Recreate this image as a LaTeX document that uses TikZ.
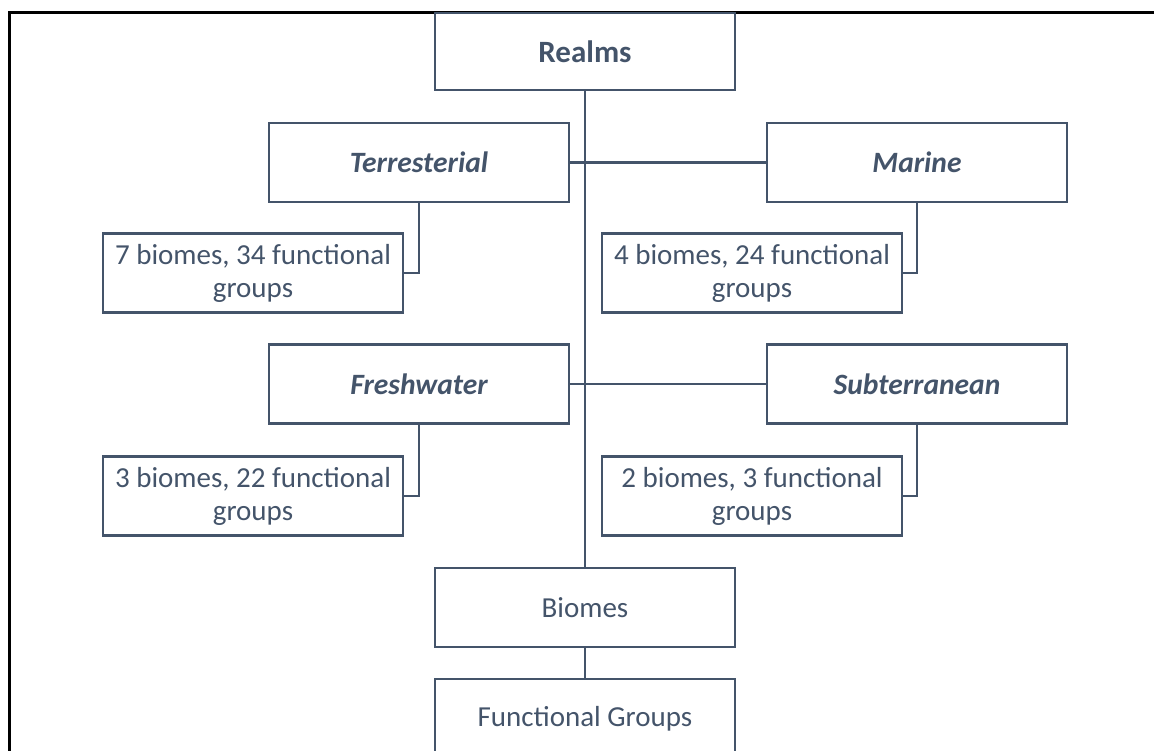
\documentclass[tikz,border=0pt]{standalone}
\usepackage{fontspec}
\setmainfont{Carlito}
\definecolor{slate}{HTML}{44546A}
\begin{document}
\begin{tikzpicture}[x=1pt,y=-1pt,
  box/.style={draw=slate, line width=2.8pt, text=slate, minimum width=300pt,
    minimum height=79pt, inner sep=0pt, align=center,
    font=\fontsize{29}{33}\selectfont},
  realm/.style={box, font=\fontsize{29.5}{33}\selectfont\bfseries\itshape},
  link/.style={draw=slate, line width=2.8pt}]
\useasboundingbox (0,0) rectangle (1154,751);
\clip (0,0) rectangle (1154,751);
% page frame
\draw[line width=3pt, black] (9.5,751) -- (9.5,13) -- (1154,13);
% hierarchy boxes
\node[box, minimum height=77pt, font=\fontsize{31}{33}\selectfont\bfseries] (realms) at (585,51.5) {Realms};
\node[realm] (terr) at (419,162.5) {Terresterial};
\node[realm] (marine) at (917,162.5) {Marine};
\node[box] (terrsub) at (253,273) {7 biomes, 34 functional\\groups};
\node[box] (marsub) at (752,273) {4 biomes, 24 functional\\groups};
\node[realm] (fresh) at (419,384) {Freshwater};
\node[realm] (subt) at (917,384) {Subterranean};
\node[box] (freshsub) at (253,496) {3 biomes, 22 functional\\groups};
\node[box] (subtsub) at (752,496) {2 biomes, 3 functional\\groups};
\node[box] (biomes) at (585,607.5) {Biomes};
\node[box] (groups) at (585,718.5) {Functional Groups};
% connectors
\draw[link] (realms.south) -- (biomes.north);
\draw[link] (terr.east) -- (marine.west);
\draw[link] (fresh.east) -- (subt.west);
\draw[link] (terr.south) |- (terrsub.east);
\draw[link] (marine.south) |- (marsub.east);
\draw[link] (fresh.south) |- (freshsub.east);
\draw[link] (subt.south) |- (subtsub.east);
\draw[link] (biomes.south) -- (groups.north);
\end{tikzpicture}
\end{document}
